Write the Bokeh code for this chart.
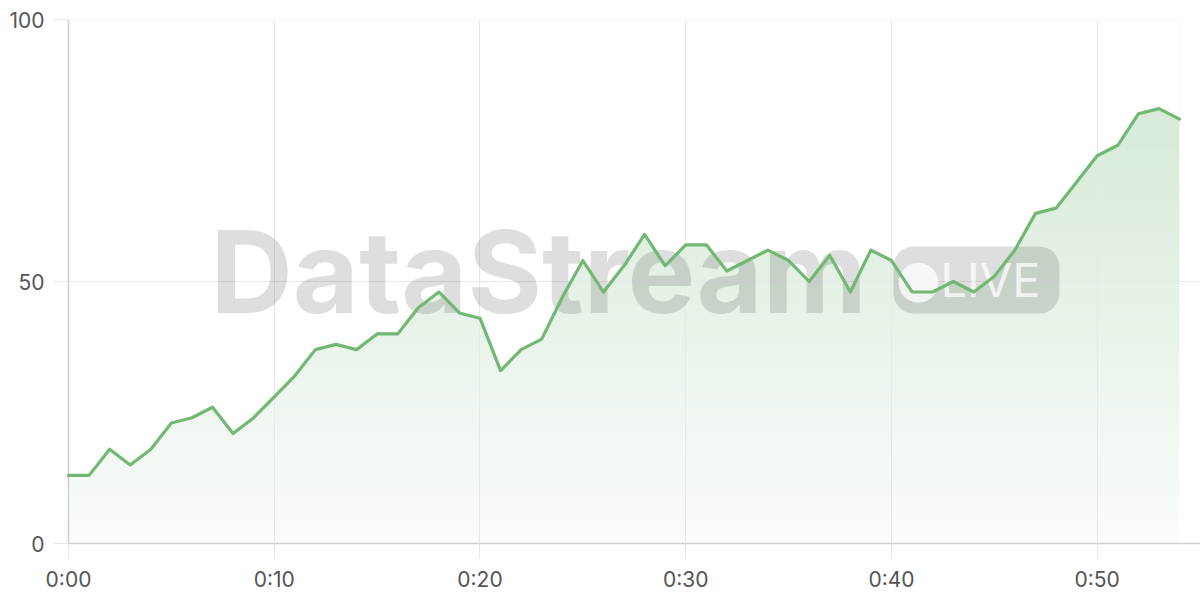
import numpy as np
from bokeh.plotting import figure
from bokeh.models import Range1d, FixedTicker, Label
from bokeh.embed import file_html
from bokeh.resources import INLINE

# ---- data ----
minutes = list(range(55))
values = [13, 13, 18, 15, 18, 23, 24, 26, 21, 24,
          28, 32, 37, 38, 37, 40, 40, 45, 48, 44,
          43, 33, 37, 39, 47, 54, 48, 53, 59, 53,
          57, 57, 52, 54, 56, 54, 50, 55, 48, 56,
          54, 48, 48, 50, 48, 51, 56, 63, 64, 69,
          74, 76, 82, 83, 81]
x_ticks = [0, 10, 20, 30, 40, 50]
x_tick_labels = ["0:00", "0:10", "0:20", "0:30", "0:40", "0:50"]
y_ticks = [0, 50, 100]

LINE = (114, 184, 116)
LINE_HEX = "#%02x%02x%02x" % LINE
FONT = "Inter"

p = figure(width=1200, height=600, output_backend="svg", toolbar_location=None,
           x_range=Range1d(0, 55.02), y_range=Range1d(0, 100),
           min_border_left=68, min_border_right=0, min_border_top=19,
           min_border_bottom=57)
p.outline_line_color = None
p.background_fill_color = "white"
p.border_fill_color = "white"

# ---- gradient fill (image below, masked above the line) ----
n = 256
img = np.empty((n, 1), dtype=np.uint32)
view = img.view(dtype=np.uint8).reshape((n, 1, 4))
frac = np.linspace(0, 1, n)
alpha = 0.04 + 0.30 * frac
view[:, 0, 0] = LINE[0]
view[:, 0, 1] = LINE[1]
view[:, 0, 2] = LINE[2]
view[:, 0, 3] = (alpha * 255).astype(np.uint8)
r_img = p.image_rgba(image=[img], x=minutes[0], y=0,
                     dw=minutes[-1] - minutes[0], dh=100)
r_img.level = "image"
r_mask = p.varea(x=minutes, y1=values, y2=[100] * len(values),
                 fill_color="white", fill_alpha=1.0)
r_mask.level = "image"

# ---- line ----
r_line = p.line(minutes, values, line_color=LINE_HEX, line_width=3.2,
                line_join="round", line_cap="round")
r_line.level = "overlay"

# ---- watermark ----
wm = Label(x=6.9, y=51.9, text="DataStream", text_font=FONT,
           text_font_size="114px", text_font_style="bold",
           text_color="black", text_alpha=0.13,
           text_align="left", text_baseline="alphabetic")
p.add_layout(wm)
pill = Label(x=40.1, y=43.9, text="LIVE", text_font=FONT,
             text_font_size="47px", text_color="white", text_alpha=0.75,
             text_align="left", text_baseline="bottom",
             background_fill_color="black", background_fill_alpha=0.13,
             border_radius=20, padding=(47, 19, 5, 5))
p.add_layout(pill)
dot = Label(x=41.31, y=50.76, text="\u25cf", text_font="DejaVu Sans",
            text_font_size="52px", text_color="white", text_alpha=0.75,
            text_align="center", text_baseline="middle")
p.add_layout(dot)

# ---- axes & grid ----
GRID = "#e8e8e8"
for ax in (p.xaxis[0], p.yaxis[0]):
    ax.major_tick_in = 0
    ax.major_tick_out = 15
    ax.major_tick_line_color = GRID
    ax.minor_tick_line_color = None
    ax.axis_line_color = "#cfcfcf"
    ax.axis_line_width = 1.5
    ax.major_label_text_font = FONT
    ax.major_label_text_font_size = "21px"
    ax.major_label_text_color = "#555555"

p.xaxis.ticker = FixedTicker(ticks=x_ticks)
p.xaxis.major_label_overrides = dict(zip(x_ticks, x_tick_labels))
p.xaxis.major_label_standoff = 8
p.yaxis.ticker = FixedTicker(ticks=y_ticks)
p.yaxis.major_label_standoff = 9

p.xgrid.ticker = FixedTicker(ticks=x_ticks)
p.ygrid.ticker = FixedTicker(ticks=y_ticks)
p.xgrid.grid_line_color = GRID
p.ygrid.grid_line_color = GRID

open("out.html", "w").write(file_html(p, INLINE))
